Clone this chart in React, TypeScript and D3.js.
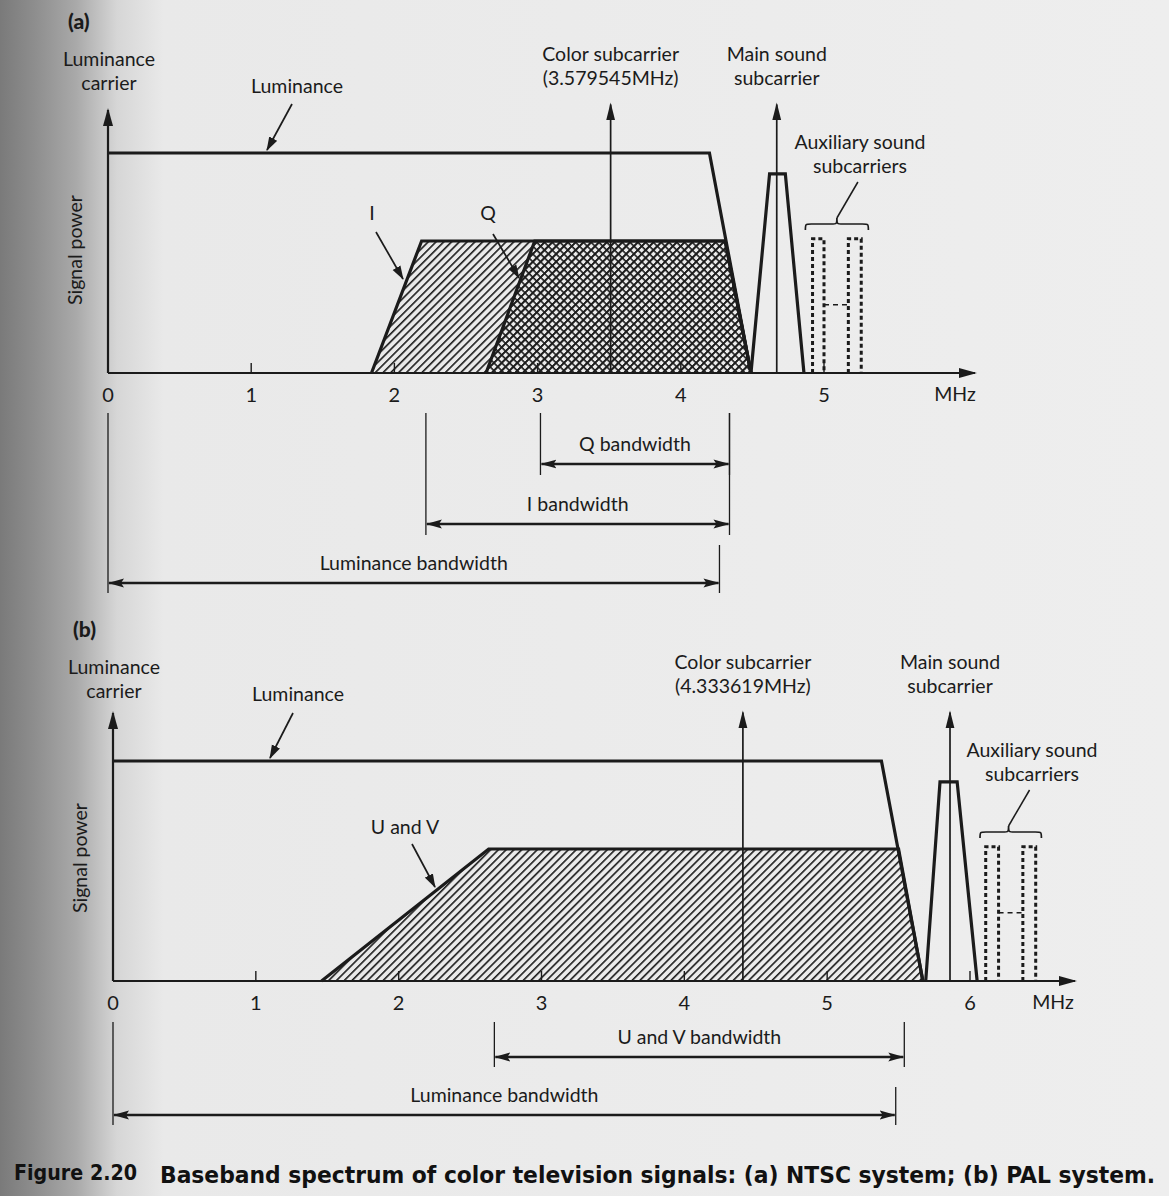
import React from 'react';
import * as d3 from 'd3';

const W = 1169;
const H = 1196;

// (a) NTSC, frequencies in MHz, power relative to the luminance level
const ntscTicks = [0, 1, 2, 3, 4, 5];
const ntscLuminance: [number, number][] = [[0, 1], [4.2, 1], [4.49, 0]];
const ntscI: [number, number][] = [[1.84, 0], [2.19, 0.6], [4.31, 0.6], [4.49, 0]];
const ntscQ: [number, number][] = [[2.64, 0], [2.98, 0.6], [4.31, 0.6], [4.49, 0]];
const ntscColorSub = 3.51;
const ntscSound: [number, number][] = [[4.49, 0], [4.62, 0.905], [4.73, 0.905], [4.86, 0]];
const ntscSoundCarrier = 4.67;
const ntscAux: [number, number][] = [[4.92, 5.0], [5.17, 5.26]];
const ntscBrace = [4.87, 5.09, 5.31];
const ntscBandwidths = [
  { label: 'Q bandwidth', from: 3.02, to: 4.34 },
  { label: 'I bandwidth', from: 2.22, to: 4.34 },
  { label: 'Luminance bandwidth', from: 0, to: 4.27 },
];

// (b) PAL
const palTicks = [0, 1, 2, 3, 4, 5, 6];
const palLuminance: [number, number][] = [[0, 1], [5.38, 1], [5.67, 0]];
const palUV: [number, number][] = [[1.46, 0], [2.63, 0.6], [5.5, 0.6], [5.67, 0]];
const palColorSub = 4.41;
const palSound: [number, number][] = [[5.69, 0], [5.79, 0.905], [5.91, 0.905], [6.05, 0]];
const palSoundCarrier = 5.86;
const palAux: [number, number][] = [[6.11, 6.2], [6.37, 6.46]];
const palBrace = [6.07, 6.27, 6.5];
const palBandwidths = [
  { label: 'U and V bandwidth', from: 2.67, to: 5.54 },
  { label: 'Luminance bandwidth', from: 0, to: 5.48 },
];

const auxLevel = 0.61;
const auxLink = 0.31;
const carrierTop = 1.23;

const INK = '#1b1b1b';
const FONT = 'Lato, "Open Sans", sans-serif';

const y = d3.scaleLinear().domain([0, 1]).range([373, 153]);
const line = d3.line<[number, number]>();

type Row = { arrowY: number; leftTop: number; rightTop: number; bottom: number };

type PanelProps = {
  dy: number;
  tag: string;
  ticks: number[];
  range: [number, number];
  axisEnd: number;
  unitX: number;
  luminance: [number, number][];
  chroma: { pts: [number, number][]; fill: string }[];
  colorSub: number;
  colorLabel: string;
  sound: [number, number][];
  soundCarrier: number;
  aux: [number, number][];
  brace: number[];
  bandwidths: { label: string; from: number; to: number }[];
  rows: Row[];
  lumLabel: { x: number; ax: [number, number, number, number] };
  chromaLabels: { text: string; x: number; y: number; ax: [number, number, number, number] }[];
  auxLabelX: number;
  axisTop: number;
};

function Panel(p: PanelProps) {
  const x = d3.scaleLinear().domain([0, p.ticks[p.ticks.length - 1]]).range(p.range);
  const pt = (d: [number, number]): [number, number] => [x(d[0]), y(d[1])];
  const x0 = x(0);
  const base = y(0);
  const [b1, bm, b2] = p.brace.map(x);
  const braceY = 230;
  const braceMid = 224;
  const braceTip = 218;
  const bracePath = `M${b1},${braceY} C${b1},${braceMid} ${b1},${braceMid} ${b1 + 6},${braceMid} L${bm - 6},${braceMid} C${bm},${braceMid} ${bm},${braceMid} ${bm},${braceTip} C${bm},${braceMid} ${bm},${braceMid} ${bm + 6},${braceMid} L${b2 - 6},${braceMid} C${b2},${braceMid} ${b2},${braceMid} ${b2},${braceY}`;
  const textStyle = { fontFamily: FONT, fontSize: 19.5, fill: INK };
  return (
    <g transform={`translate(0,${p.dy})`}>
      <text x={x0 - 40} y={29} style={{ fontFamily: 'Lato, sans-serif', fontWeight: 900, fontSize: 21, fill: INK }}>{p.tag}</text>
      <text x={x0 + 1} y={66} textAnchor="middle" style={textStyle}>Luminance</text>
      <text x={x0 + 1} y={90} textAnchor="middle" style={textStyle}>carrier</text>
      <text transform={`translate(${x0 - 26},250) rotate(-90)`} textAnchor="middle" style={textStyle}>Signal power</text>

      {/* hatched chroma areas */}
      {p.chroma.map((c, i) => (
        <path key={i} d={line(c.pts.map(pt)) + 'Z'} fill={c.fill} stroke="none" />
      ))}
      {p.chroma.map((c, i) => (
        <path key={'o' + i} d={line(c.pts.map(pt)) ?? ''} fill="none" stroke={INK} strokeWidth={3.2} strokeLinejoin="miter" />
      ))}

      {/* luminance */}
      <path d={line(p.luminance.map(pt)) ?? ''} fill="none" stroke={INK} strokeWidth={3.2} />

      {/* color subcarrier */}
      <line x1={x(p.colorSub)} x2={x(p.colorSub)} y1={base} y2={y(carrierTop) + 2} stroke={INK} strokeWidth={1.7} markerEnd="url(#head)" />
      <text x={x(p.colorSub)} y={61} textAnchor="middle" style={textStyle}>Color subcarrier</text>
      <text x={x(p.colorSub)} y={85} textAnchor="middle" style={textStyle}>{p.colorLabel}</text>

      {/* main sound */}
      <path d={line(p.sound.map(pt)) ?? ''} fill="none" stroke={INK} strokeWidth={3.2} />
      <line x1={x(p.soundCarrier)} x2={x(p.soundCarrier)} y1={base} y2={y(carrierTop) + 2} stroke={INK} strokeWidth={1.7} markerEnd="url(#head)" />
      <text x={x(p.soundCarrier)} y={61} textAnchor="middle" style={textStyle}>Main sound</text>
      <text x={x(p.soundCarrier)} y={85} textAnchor="middle" style={textStyle}>subcarrier</text>

      {/* auxiliary sound */}
      {p.aux.map((a, i) => (
        <path key={i} d={`M${x(a[0])},${base} L${x(a[0])},${y(auxLevel)} L${x(a[1])},${y(auxLevel)} L${x(a[1])},${base}`} fill="none" stroke={INK} strokeWidth={3} strokeDasharray="4,3" />
      ))}
      <line x1={x(p.aux[0][1])} x2={x(p.aux[1][0])} y1={y(auxLink)} y2={y(auxLink)} stroke={INK} strokeWidth={1.4} strokeDasharray="5,4" />
      <path d={bracePath} fill="none" stroke={INK} strokeWidth={1.7} />
      <line x1={bm} y1={braceTip} x2={bm + 21} y2={182} stroke={INK} strokeWidth={1.5} />
      <text x={p.auxLabelX} y={149} textAnchor="middle" style={textStyle}>Auxiliary sound</text>
      <text x={p.auxLabelX} y={173} textAnchor="middle" style={textStyle}>subcarriers</text>

      {/* axes */}
      <line x1={x0} x2={x0} y1={base} y2={p.axisTop} stroke={INK} strokeWidth={2.2} markerEnd="url(#axisHead)" />
      <line x1={x0} x2={p.axisEnd} y1={base} y2={base} stroke={INK} strokeWidth={2.2} markerEnd="url(#axisHead)" />
      {p.ticks.slice(1).map((t) => (
        <line key={t} x1={x(t)} x2={x(t)} y1={base} y2={base - 10} stroke={INK} strokeWidth={1.4} />
      ))}
      {p.ticks.map((t) => (
        <text key={t} x={x(t)} y={402} textAnchor="middle" style={{ ...textStyle, fontSize: 20 }}>{t}</text>
      ))}
      <text x={p.unitX} y={401} textAnchor="middle" style={textStyle}>MHz</text>

      {/* luminance label */}
      <text x={p.lumLabel.x} y={93} textAnchor="middle" style={textStyle}>Luminance</text>
      <line x1={p.lumLabel.ax[0]} y1={p.lumLabel.ax[1]} x2={p.lumLabel.ax[2]} y2={p.lumLabel.ax[3]} stroke={INK} strokeWidth={1.7} markerEnd="url(#small)" />
      {p.chromaLabels.map((c) => (
        <g key={c.text}>
          <text x={c.x} y={c.y} textAnchor="middle" style={textStyle}>{c.text}</text>
          <line x1={c.ax[0]} y1={c.ax[1]} x2={c.ax[2]} y2={c.ax[3]} stroke={INK} strokeWidth={1.7} markerEnd="url(#small)" />
        </g>
      ))}

      {/* bandwidth dimensions */}
      {p.bandwidths.map((b, i) => {
        const r = p.rows[i];
        const xl = x(b.from);
        const xr = x(b.to);
        return (
          <g key={b.label}>
            <line x1={xl} x2={xl} y1={r.leftTop} y2={r.bottom} stroke={INK} strokeWidth={1.3} />
            <line x1={xr} x2={xr} y1={r.rightTop} y2={r.bottom} stroke={INK} strokeWidth={1.3} />
            <line x1={xl + 1} x2={xr - 1} y1={r.arrowY} y2={r.arrowY} stroke={INK} strokeWidth={2.4} markerStart="url(#dim)" markerEnd="url(#dim)" />
            <text x={(xl + xr) / 2} y={r.arrowY - 13} textAnchor="middle" style={textStyle}>{b.label}</text>
          </g>
        );
      })}
    </g>
  );
}

export default function App() {
  return (
    <svg width={W} height={H} viewBox={`0 0 ${W} ${H}`} style={{ position: 'absolute', left: 0, top: 0, display: 'block' }}>
      <defs>
        <linearGradient id="paper" x1="0" x2="1" y1="0" y2="0">
          <stop offset="0" stopColor="#7a7a7a" />
          <stop offset="0.03" stopColor="#8e8e8e" />
          <stop offset="0.065" stopColor="#a9a9a9" />
          <stop offset="0.1" stopColor="#d6d6d6" />
          <stop offset="0.14" stopColor="#e9e9e9" />
          <stop offset="1" stopColor="#eeeeee" />
        </linearGradient>
        <pattern id="hatch" patternUnits="userSpaceOnUse" width={5.5} height={5.5} patternTransform="rotate(45)">
          <rect x={0} y={0} width={1.6} height={5.5} fill={INK} />
        </pattern>
        <pattern id="cross" patternUnits="userSpaceOnUse" width={5.5} height={5.5} patternTransform="rotate(45)">
          <rect x={0} y={0} width={1.6} height={5.5} fill={INK} />
          <rect x={0} y={0} width={5.5} height={1.6} fill={INK} />
        </pattern>
        <marker id="head" markerUnits="userSpaceOnUse" markerWidth={18} markerHeight={10} refX={16} refY={5} orient="auto" viewBox="0 0 18 10">
          <path d="M0,0.5 L18,5 L0,9.5 Z" fill={INK} />
        </marker>
        <marker id="axisHead" markerUnits="userSpaceOnUse" markerWidth={18} markerHeight={12} refX={16} refY={5} orient="auto" viewBox="0 0 18 10">
          <path d="M0,0 L18,5 L0,10 Z" fill={INK} />
        </marker>
        <marker id="small" markerUnits="userSpaceOnUse" markerWidth={14} markerHeight={10} refX={13} refY={5} orient="auto" viewBox="0 0 14 10">
          <path d="M0,0.5 L14,5 L0,9.5 Z" fill={INK} />
        </marker>
        <marker id="dim" markerUnits="userSpaceOnUse" markerWidth={16} markerHeight={10} refX={15} refY={5} orient="auto-start-reverse" viewBox="0 0 16 10">
          <path d="M0,0.5 L16,5 L0,9.5 L3,5 Z" fill={INK} />
        </marker>
      </defs>
      <rect x={0} y={0} width={W} height={H} fill="url(#paper)" />

      <Panel
        dy={0}
        tag="(a)"
        ticks={ntscTicks}
        range={[108, 824]}
        axisEnd={975}
        unitX={955}
        axisTop={110}
        luminance={ntscLuminance}
        chroma={[{ pts: ntscI, fill: 'url(#hatch)' }, { pts: ntscQ, fill: 'url(#cross)' }]}
        colorSub={ntscColorSub}
        colorLabel="(3.579545MHz)"
        sound={ntscSound}
        soundCarrier={ntscSoundCarrier}
        aux={ntscAux}
        brace={ntscBrace}
        bandwidths={ntscBandwidths}
        rows={[
          { arrowY: 464, leftTop: 413, rightTop: 413, bottom: 475 },
          { arrowY: 524, leftTop: 413, rightTop: 413, bottom: 535 },
          { arrowY: 583, leftTop: 413, rightTop: 545, bottom: 593 },
        ]}
        lumLabel={{ x: 297, ax: [292, 104, 267, 150] }}
        chromaLabels={[
          { text: 'I', x: 372, y: 220, ax: [376, 232, 403, 279] },
          { text: 'Q', x: 488, y: 220, ax: [493, 234, 519, 278] },
        ]}
        auxLabelX={860}
      />
      <Panel
        dy={608}
        tag="(b)"
        ticks={palTicks}
        range={[113, 970]}
        axisEnd={1075}
        unitX={1053}
        axisTop={105}
        luminance={palLuminance}
        chroma={[{ pts: palUV, fill: 'url(#hatch)' }]}
        colorSub={palColorSub}
        colorLabel="(4.333619MHz)"
        sound={palSound}
        soundCarrier={palSoundCarrier}
        aux={palAux}
        brace={palBrace}
        bandwidths={palBandwidths}
        rows={[
          { arrowY: 449, leftTop: 414, rightTop: 414, bottom: 459 },
          { arrowY: 507, leftTop: 414, rightTop: 479, bottom: 517 },
        ]}
        lumLabel={{ x: 298, ax: [293, 105, 270, 150] }}
        chromaLabels={[{ text: 'U and V', x: 405, y: 226, ax: [412, 236, 435, 279] }]}
        auxLabelX={1032}
      />

      <text x={14} y={1180} textLength={123} lengthAdjust="spacingAndGlyphs" style={{ fontFamily: '"DejaVu Sans Condensed", "DejaVu Sans", sans-serif', fontWeight: 700, fontSize: 22, fill: '#111' }}>Figure 2.20</text>
      <text x={160} y={1183} textLength={995} lengthAdjust="spacingAndGlyphs" style={{ fontFamily: '"DejaVu Sans Condensed", "DejaVu Sans", sans-serif', fontWeight: 700, fontSize: 23, fill: '#111' }}>Baseband spectrum of color television signals: (a) NTSC system; (b) PAL system.</text>
    </svg>
  );
}
